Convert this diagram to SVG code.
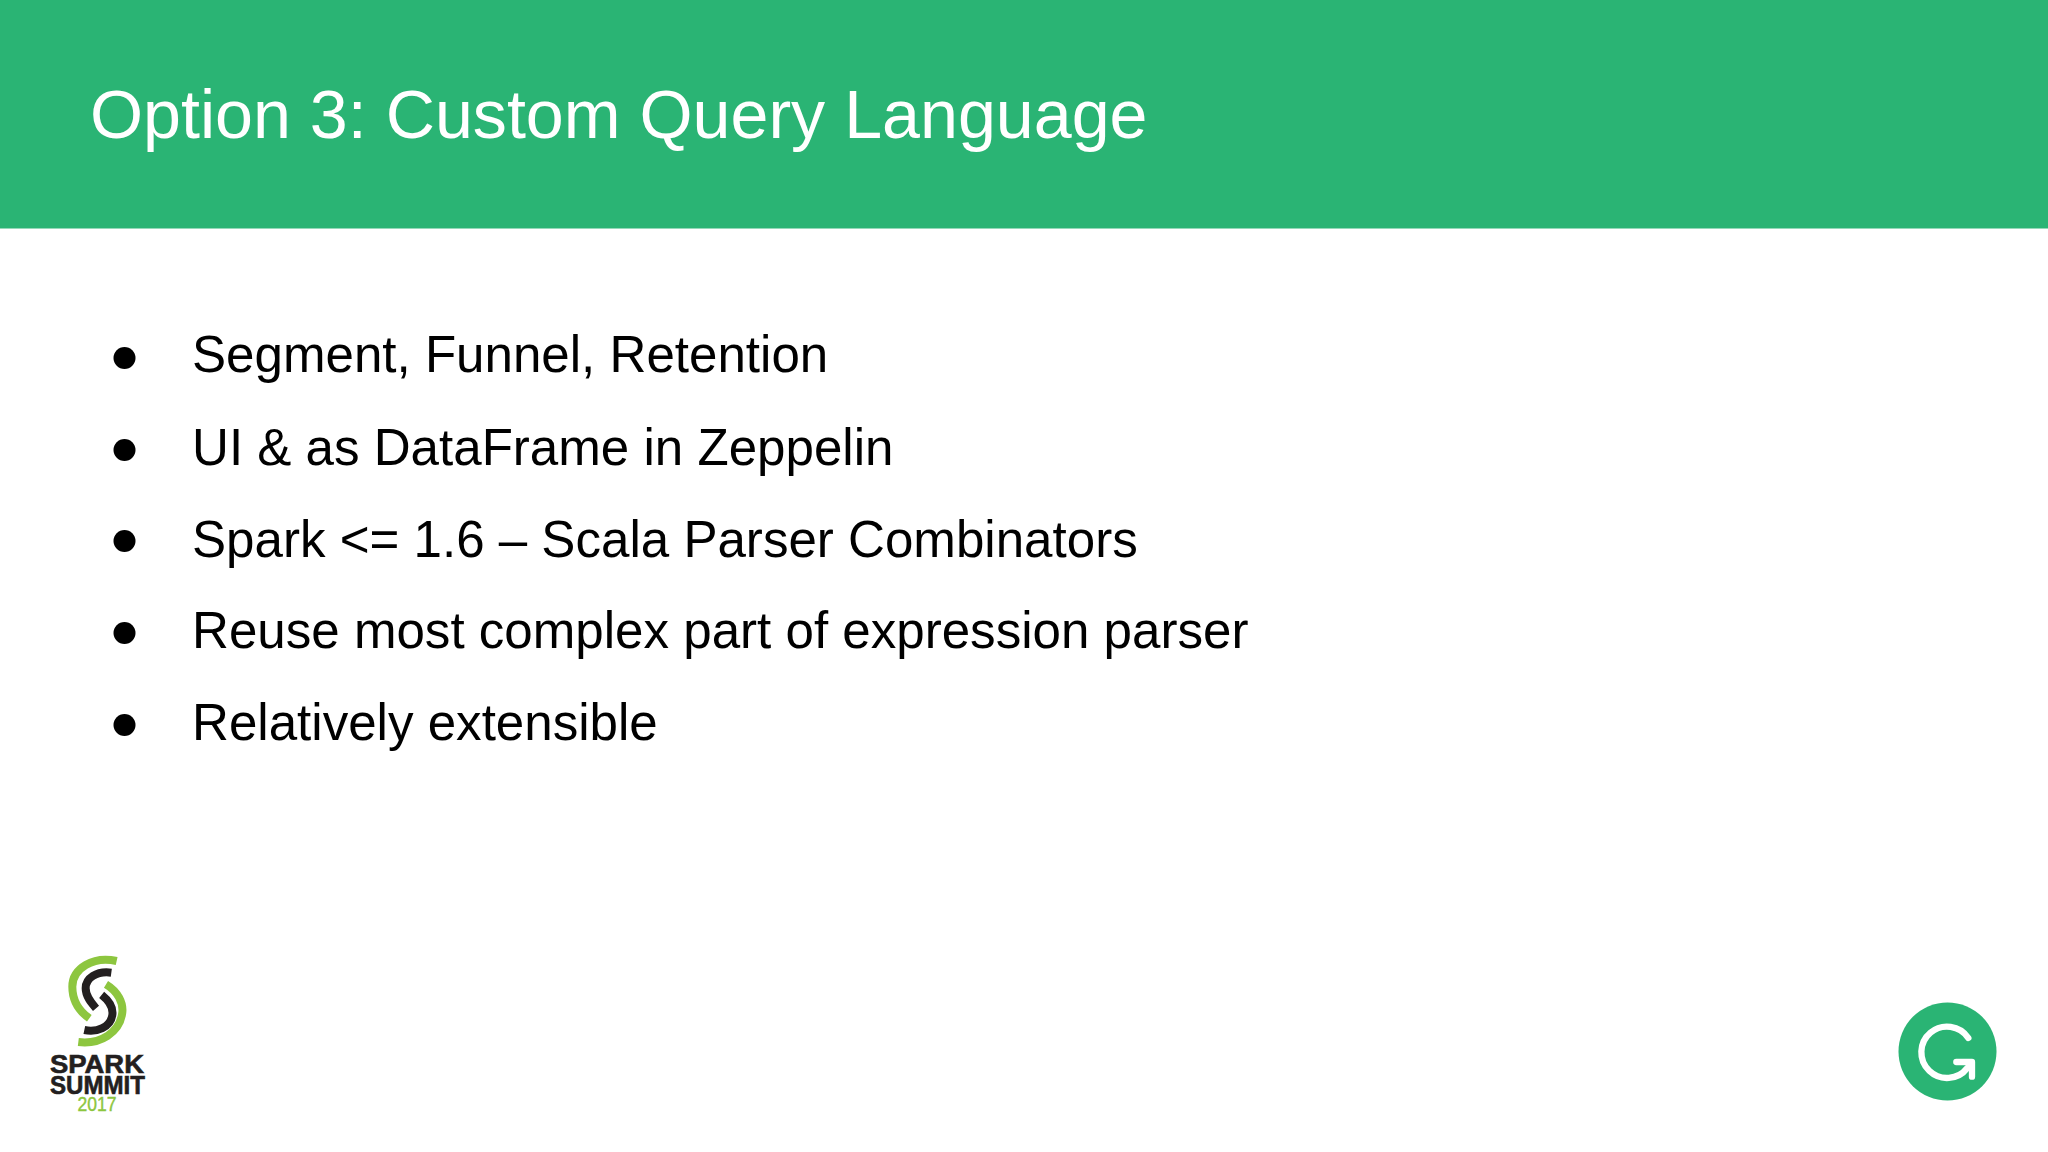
<svg xmlns="http://www.w3.org/2000/svg" width="2048" height="1152" viewBox="0 0 2048 1152">
<style>
text{font-family:"Liberation Sans",Arial,sans-serif}
.b{font-size:51.100px;fill:#000}
.n{fill:none;stroke-linecap:butt}
</style>
<rect width="2048" height="1152" fill="#fff"/>
<rect id="header" width="2048" height="228.500" fill="#2ab474"/>
<text id="title" x="90" y="137.500" font-size="68.200" fill="#fff">Option 3: Custom Query Language</text>
<g id="bullets">
<circle cx="124.500" cy="358" r="11"/><text class="b" x="192" y="372">Segment, Funnel, Retention</text>
<circle cx="124.500" cy="450" r="11"/><text class="b" x="192" y="465">UI &amp; as DataFrame in Zeppelin</text>
<circle cx="124.500" cy="541" r="11"/><text class="b" x="192" y="557">Spark &lt;= 1.6 – Scala Parser Combinators</text>
<circle cx="124.500" cy="633" r="11"/><text class="b" x="192" y="648">Reuse most complex part of expression parser</text>
<circle cx="124.500" cy="725" r="11"/><text class="b" x="192" y="740">Relatively extensible</text>
</g>
<g id="spark-logo">
<g transform="translate(30 940) scale(.3333)">
<path class="n" stroke="#8dc63f" stroke-width="24" d="M260 63C190 47 127 85 127 140C127 185 150 215 178 235"/>
<path class="n" stroke="#231f20" stroke-width="24" d="M244 98C200 92 167 115 167 145C167 170 185 190 198 205"/>
<path class="n" stroke="#231f20" stroke-width="24" d="M215 165C240 185 250 205 247 225C242 262 200 278 163 270"/>
<path class="n" stroke="#8dc63f" stroke-width="24" d="M228 133C265 155 280 190 277 217C270 278 210 314 145 306"/>
</g>
<text font-weight="700" fill="#231f20" stroke="#231f20" stroke-width=".6" font-size="25">
<tspan x="50" y="1073" textLength="94" lengthAdjust="spacingAndGlyphs">SPARK</tspan>
<tspan x="50" y="1094" textLength="95" lengthAdjust="spacingAndGlyphs">SUMMIT</tspan>
<tspan x="77.500" y="1111" font-size="20" font-weight="400" fill="#8dc63f" stroke="#8dc63f" stroke-width=".4" textLength="39" lengthAdjust="spacingAndGlyphs">2017</tspan>
</text>
</g>
<g id="g-logo">
<circle cx="1947.500" cy="1051.500" r="49" fill="#2ab474"/>
<g transform="translate(1880 990) scale(.3333)" fill="none" stroke="#fff" stroke-width="19" stroke-linecap="round" stroke-linejoin="round">
<path d="M265 144A77 77 0 1 0 262 234"/>
<path d="M229 216H276V260"/>
<path d="M276 216L245 250" stroke-width="12"/>
</g>
</g>
</svg>
